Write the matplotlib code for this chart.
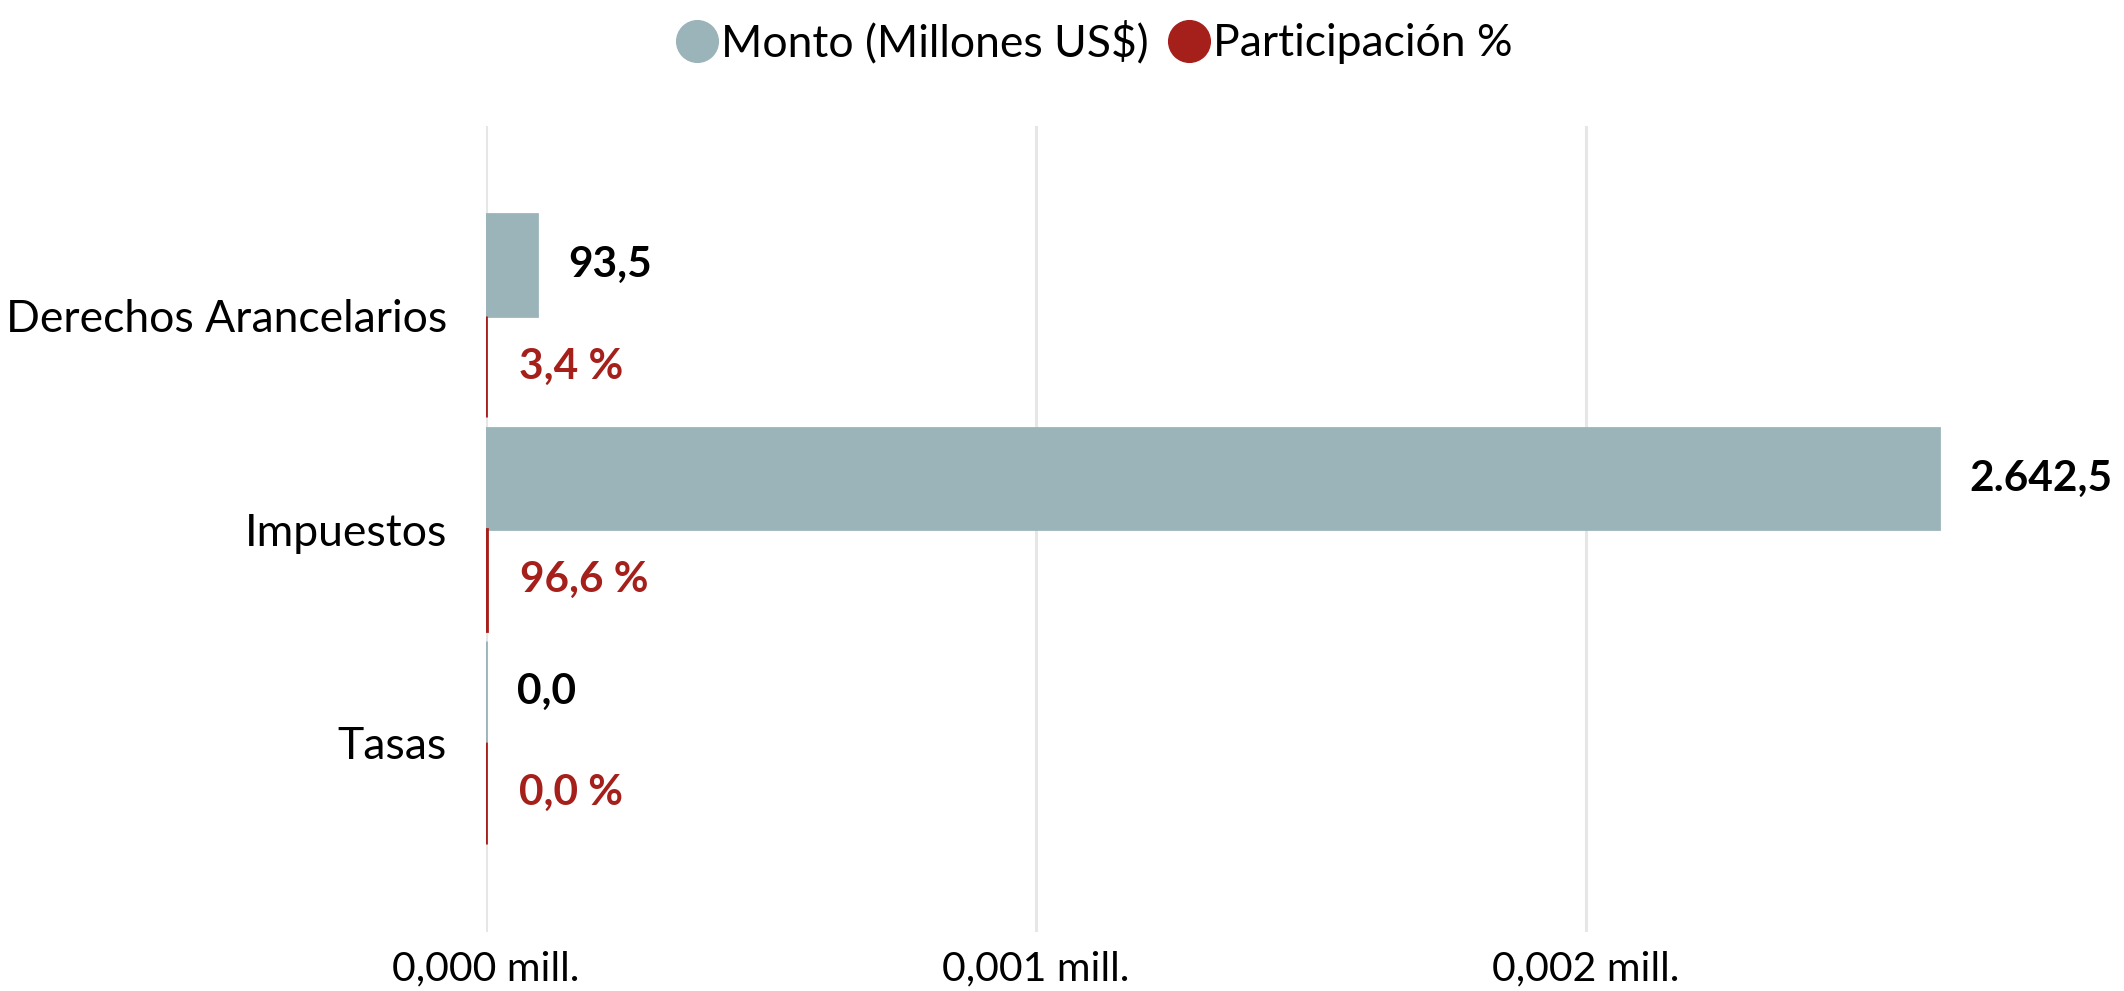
import matplotlib.pyplot as plt
from matplotlib.lines import Line2D
import numpy as np

plt.rcParams['font.family'] = ['Lato', 'DejaVu Sans']

# datos
categorias = ["Derechos Arancelarios", "Impuestos", "Tasas"]
monto = [93.5, 2642.5, 0.0]           # millones US$
participacion = [3.4, 96.6, 0.0]      # %
ticks_x = [0, 1000, 2000]

COLOR_MONTO = "#9bb4b9"
COLOR_PART = "#a51f1b"


def fmt_num(v):
    s = f"{v:,.1f}"
    return s.replace(",", "X").replace(".", ",").replace("X", ".")


fig = plt.figure(figsize=(21.24, 9.91), dpi=100)
ax = fig.add_axes([0.2288, 0.0595, 0.725, 0.813])

y = np.arange(len(categorias))
h = 0.476

ax.barh(y - h / 2, monto, height=h, color=COLOR_MONTO,
        edgecolor=COLOR_MONTO, linewidth=2, zorder=3)
ax.barh(y + h / 2, [p / 100 for p in participacion], height=h, color=COLOR_PART,
        edgecolor=COLOR_PART, linewidth=2, zorder=3)

for i in range(len(categorias)):
    ax.annotate(fmt_num(monto[i]), (monto[i], y[i] - h / 2),
                xytext=(22, 0), textcoords="offset points",
                ha="left", va="center", fontsize=30.5, fontweight="bold", color="black")
    ax.annotate(fmt_num(participacion[i]) + " %", (participacion[i] / 100, y[i] + h / 2),
                xytext=(24, 0), textcoords="offset points",
                ha="left", va="center", fontsize=30.5, fontweight="bold", color=COLOR_PART)

ax.set_xlim(0, 2800)
ax.set_ylim(2.889, -0.889)
ax.set_yticks(y)
ax.set_yticklabels(categorias, fontsize=32)
ax.set_xticks(ticks_x)
ax.set_xticklabels([f"{t / 1e6:.3f}".replace(".", ",") + " mill." for t in ticks_x], fontsize=29.5)
ax.tick_params(axis="both", length=0)
ax.tick_params(axis="y", pad=28)
ax.tick_params(axis="x", pad=13)
ax.grid(axis="x", color="#e6e6e6", linewidth=2.2, zorder=0)
for s in ax.spines.values():
    s.set_visible(False)

handles = [
    Line2D([], [], marker="o", linestyle="none", markersize=30, color=COLOR_MONTO),
    Line2D([], [], marker="o", linestyle="none", markersize=30, color=COLOR_PART),
]
fig.legend(handles, ["Monto (Millones US$)", "Participación %"], loc="center",
           bbox_to_anchor=(0.515, 0.957), ncol=2, frameon=False, fontsize=32,
           handletextpad=0.05, columnspacing=0.4, handlelength=1.0)

fig.savefig("out.png", dpi=100)
